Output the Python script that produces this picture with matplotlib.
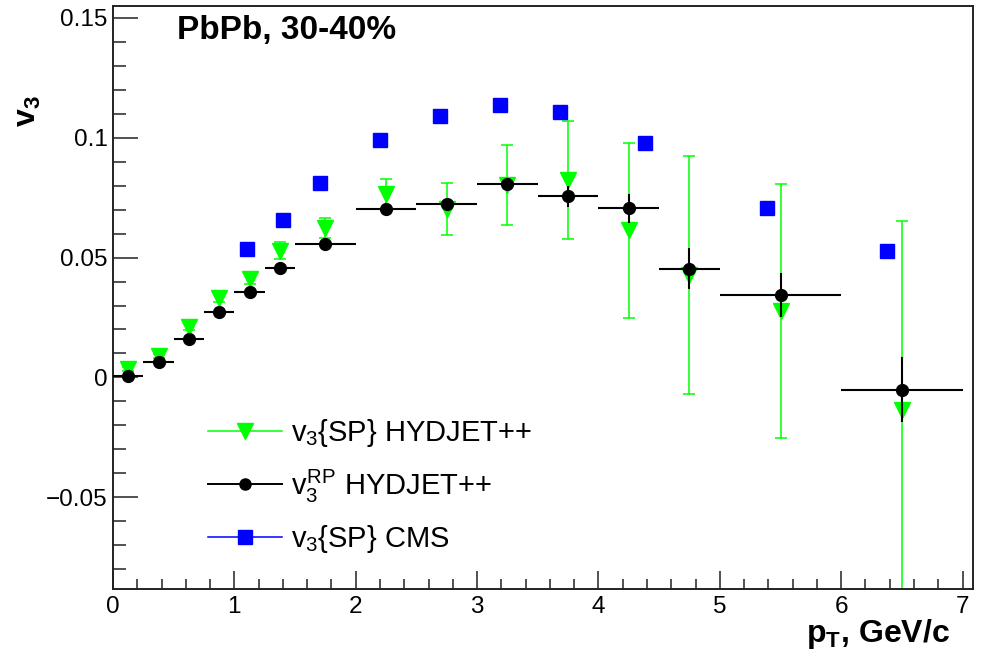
import matplotlib
matplotlib.use("Agg")
import matplotlib.pyplot as plt
from matplotlib.lines import Line2D
from matplotlib.ticker import MultipleLocator, FuncFormatter

# pT bins (GeV/c): centres and half-widths
pt_centers = [0.125, 0.375, 0.625, 0.875, 1.125, 1.375, 1.75, 2.25, 2.75,
              3.25, 3.75, 4.25, 4.75, 5.5, 6.5]
pt_halfwidth = [0.125, 0.125, 0.125, 0.125, 0.125, 0.125, 0.25, 0.25, 0.25,
                0.25, 0.25, 0.25, 0.25, 0.5, 0.5]

# HYDJET++ v3 from the scalar-product method
v3_sp_hydjet = [0.0036, 0.0089, 0.0209, 0.0332, 0.0410, 0.0529, 0.0623, 0.0765,
                0.0704, 0.0801, 0.0824, 0.0614, 0.0426, 0.0278, -0.0136]
v3_sp_hydjet_err = [0.0008, 0.0010, 0.0013, 0.0016, 0.0020, 0.0035, 0.0041, 0.0062,
                    0.0109, 0.0167, 0.0247, 0.0366, 0.0496, 0.0530, 0.0789]

# HYDJET++ v3 relative to the reaction plane
v3_rp_hydjet = [0.0006, 0.0065, 0.0159, 0.0275, 0.0358, 0.0456, 0.0557, 0.0703,
                0.0724, 0.0808, 0.0756, 0.0705, 0.0454, 0.0344, -0.0052]
v3_rp_hydjet_err = [0.0004, 0.0006, 0.0008, 0.0009, 0.0010, 0.0012, 0.0013, 0.0015,
                    0.0018, 0.0022, 0.0043, 0.0059, 0.0085, 0.0092, 0.0136]

# CMS measurement, v3{SP}
cms_pt = [1.105, 1.397, 1.702, 2.198, 2.694, 3.19, 3.683, 4.383, 5.385, 6.378]
cms_v3 = [0.0535, 0.0657, 0.0810, 0.0991, 0.1093, 0.1137, 0.1107, 0.0977,
          0.0709, 0.0528]

legend_labels = [r"$v_3${SP} HYDJET++", r"$v_3^{RP}$ HYDJET++", r"$v_3${SP} CMS"]

GREEN = "#00ff00"
BLUE = "#0000ff"

plt.rcParams.update({
    "font.family": ["Liberation Sans", "DejaVu Sans"],
    "mathtext.fontset": "custom",
    "mathtext.rm": "Liberation Sans",
    "mathtext.it": "Liberation Sans",
    "mathtext.bf": "Liberation Sans:bold",
})

W, H = 981, 660
fig = plt.figure(figsize=(W / 100, H / 100), dpi=100)
ax = fig.add_axes([113 / W, 1 - 589 / H, (973 - 113) / W, (589 - 6) / H])

ax.errorbar(pt_centers, v3_sp_hydjet, yerr=v3_sp_hydjet_err, fmt="v",
            color=GREEN, mec=GREEN, ms=11, lw=1.1, capsize=4, capthick=1.1,
            zorder=2)
ax.errorbar(pt_centers, v3_rp_hydjet, xerr=pt_halfwidth, yerr=v3_rp_hydjet_err,
            fmt="o", color="black", ms=8.5, lw=1.5, capsize=0, zorder=3)
ax.plot(cms_pt, cms_v3, "s", color=BLUE, mec=BLUE, ms=10.5, zorder=4)

ax.set_xlim(0, 7.086)
ax.set_ylim(-0.0883, 0.155)

ax.xaxis.set_major_locator(MultipleLocator(1))
ax.xaxis.set_minor_locator(MultipleLocator(0.2))
ax.yaxis.set_major_locator(MultipleLocator(0.05))
ax.yaxis.set_minor_locator(MultipleLocator(0.01))


def fmt_tick(v, _pos):
    s = "%g" % round(v, 6)
    if s in ("-0", "0"):
        return "0"
    return s.replace("-", "\u2212")


ax.xaxis.set_major_formatter(FuncFormatter(fmt_tick))
ax.yaxis.set_major_formatter(FuncFormatter(fmt_tick))

ax.tick_params(which="both", direction="in", top=False, right=False,
               width=1.1, color="#222222", labelsize=17.5)
ax.tick_params(axis="x", which="major", length=13, pad=5)
ax.tick_params(axis="x", which="minor", length=7)
ax.tick_params(axis="y", which="major", length=18, pad=4)
ax.tick_params(axis="y", which="minor", length=9.4)
for sp in ax.spines.values():
    sp.set_linewidth(1.4)
    sp.set_color("#222222")

handles = [
    Line2D([], [], color=GREEN, marker="v", ms=11, lw=1.1),
    Line2D([], [], color="black", marker="o", ms=8, lw=1.4),
    Line2D([], [], color=BLUE, marker="s", ms=10.5, lw=1.1),
]
ax.legend(handles, legend_labels, loc="center left",
          bbox_to_anchor=(208 / W, 1 - 486 / H), bbox_transform=fig.transFigure,
          frameon=False, fontsize=21, handlelength=2.55, handletextpad=0.3,
          labelspacing=0.64, borderpad=0, borderaxespad=0)

fig.text(177 / W, 1 - 38.5 / H, "PbPb, 30-40%", fontsize=24,
         fontweight="bold", ha="left", va="baseline")
fig.text(950 / W, 1 - 642 / H, r"$\mathbf{p}_{\mathbf{T}}$, GeV/c", fontsize=23,
         fontweight="bold", ha="right", va="baseline")
fig.text(28 / W, 1 - 111 / H, r"$\mathbf{v}_{\mathbf{3}}$", fontsize=23,
         fontweight="bold", rotation=90, ha="center", va="center")

fig.savefig("out.png", dpi=100)
